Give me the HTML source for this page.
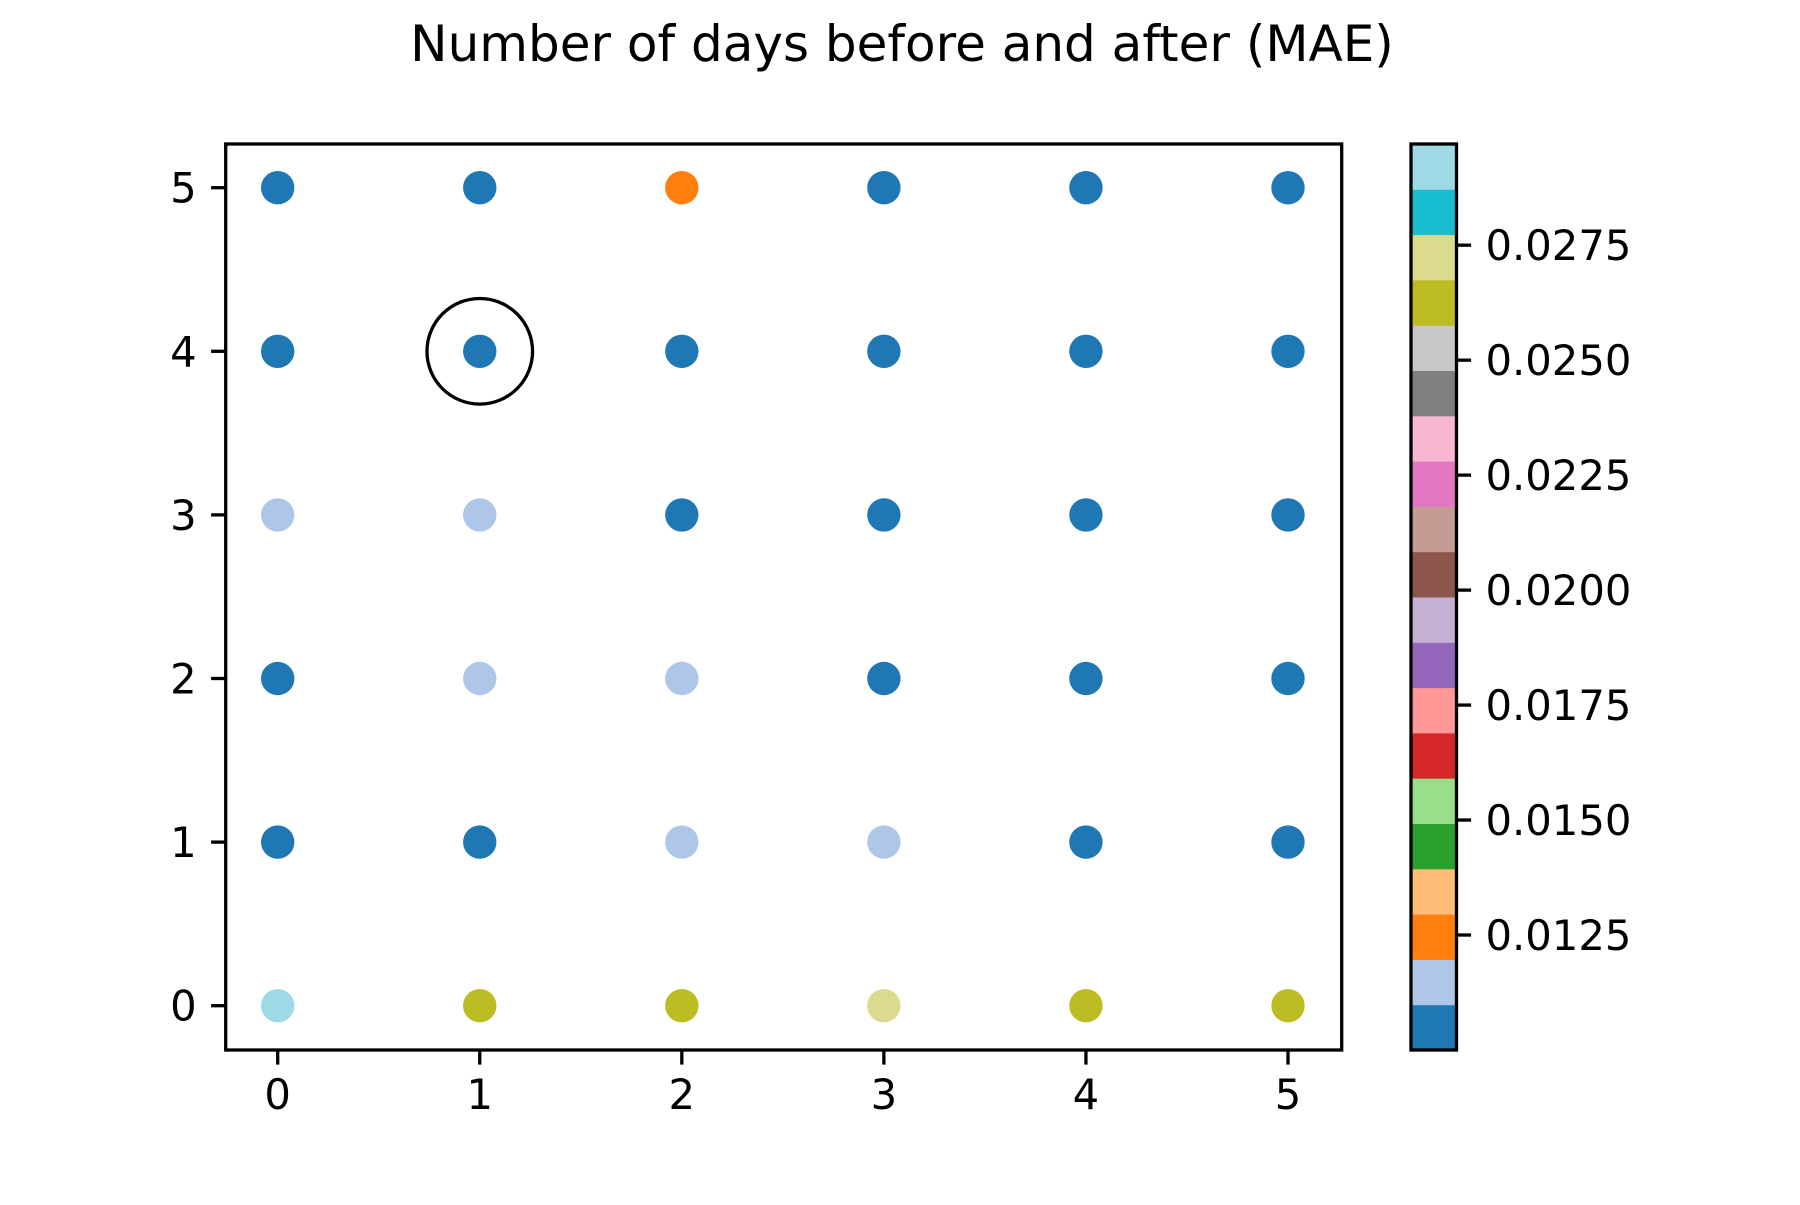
<!DOCTYPE html>
<html><head><meta charset="utf-8"><style>
html,body{margin:0;padding:0;background:#fff;}
svg text{font-family:"DejaVu Sans","Liberation Sans",sans-serif;fill:#000;}
</style></head><body>
<svg id="chart" width="1800" height="1200" xmlns="http://www.w3.org/2000/svg">
<rect width="1800" height="1200" fill="#fff"/>
<text x="902" y="61" font-size="50" text-anchor="middle">Number of days before and after (MAE)</text>
<g id="marks"></g>
<g id="axes"></g>
<g id="cbar"></g>
</svg>
<script>
const xCats=[0,1,2,3,4,5];
const yCats=[0,1,2,3,4,5];
// mae[row y][col x]
const maeRow0=[0.0295,0.0263,0.0263,0.0272,0.0263,0.0263];
const maeRow1=[0.0104,0.0104,0.0115,0.0115,0.0104,0.0104];
const maeRow2=[0.0104,0.0115,0.0115,0.0104,0.0104,0.0104];
const maeRow3=[0.0115,0.0115,0.0104,0.0104,0.0104,0.0104];
const maeRow4=[0.0104,0.0104,0.0104,0.0104,0.0104,0.0104];
const maeRow5=[0.0104,0.0104,0.0125,0.0104,0.0104,0.0104];
const highlight=[1,4];
const cbarTicks=[0.0125,0.0150,0.0175,0.0200,0.0225,0.0250,0.0275];
const cbarTickLabels=["0.0125","0.0150","0.0175","0.0200","0.0225","0.0250","0.0275"];
const vmin=0.0100, vmax=0.0297;
const tab20=["#1f77b4","#aec7e8","#ff7f0e","#ffbb78","#2ca02c","#98df8a","#d62728","#ff9896","#9467bd","#c5b0d5","#8c564b","#c49c94","#e377c2","#f7b6d2","#7f7f7f","#c7c7c7","#bcbd22","#dbdb8d","#17becf","#9edae5"];
const rows=[maeRow0,maeRow1,maeRow2,maeRow3,maeRow4,maeRow5];
const L=225.7,R=1341.7,T=144,B=1050;
const X=v=>277.7+v*202.06;
const Y=v=>1005.7-v*163.6;
const CL=1411,CR=1456.5;
const CY=v=>B-(v-vmin)/(vmax-vmin)*(B-T);
const NS="http://www.w3.org/2000/svg";
function mk(t,a,p){const e=document.createElementNS(NS,t);for(const k in a)e.setAttribute(k,a[k]);p.appendChild(e);return e;}
function col(v){let i=Math.floor((v-vmin)/(vmax-vmin)*20);i=Math.max(0,Math.min(19,i));return tab20[i];}
const marks=document.getElementById('marks');
rows.forEach((r,yi)=>r.forEach((v,xi)=>{
 const c=mk('circle',{cx:X(xCats[xi]),cy:Y(yCats[yi]),r:16.7,fill:col(v)},marks);
 
 
}));
const hc=mk('circle',{cx:X(highlight[0]),cy:Y(highlight[1]),r:52.8,fill:'none',stroke:'#000','stroke-width':3.3},marks);


const ax=document.getElementById('axes');
const fr=mk('rect',{x:L,y:T,width:R-L,height:B-T,fill:'none',stroke:'#000','stroke-width':3.3},ax);


xCats.forEach(v=>{
 mk('line',{x1:X(v),x2:X(v),y1:B,y2:B+14.6,stroke:'#000','stroke-width':3.3},ax);
 const t=mk('text',{x:X(v),y:B+59,'font-size':41.7,'text-anchor':'middle'},ax);t.textContent=v;
 
 
});
yCats.forEach(v=>{
 mk('line',{x1:L-14.6,x2:L,y1:Y(v),y2:Y(v),stroke:'#000','stroke-width':3.3},ax);
 const t=mk('text',{x:L-29,y:Y(v)+15,'font-size':41.7,'text-anchor':'end'},ax);t.textContent=v;
 
 
});
const cb=document.getElementById('cbar');
tab20.forEach((c,i)=>{
 const y0=B-(i+1)*(B-T)/20;
 const r=mk('rect',{x:CL,y:y0,width:CR-CL,height:(B-T)/20+0.5,fill:c},cb);
 
 
});
const cf=mk('rect',{x:CL,y:T,width:CR-CL,height:B-T,fill:'none',stroke:'#000','stroke-width':3.3},cb);


cbarTicks.forEach((v,i)=>{
 mk('line',{x1:CR,x2:CR+14.6,y1:CY(v),y2:CY(v),stroke:'#000','stroke-width':3.3},cb);
 const t=mk('text',{x:CR+29,y:CY(v)+15,'font-size':41.7},cb);t.textContent=cbarTickLabels[i];
 
 
});
</script>
</body></html>
